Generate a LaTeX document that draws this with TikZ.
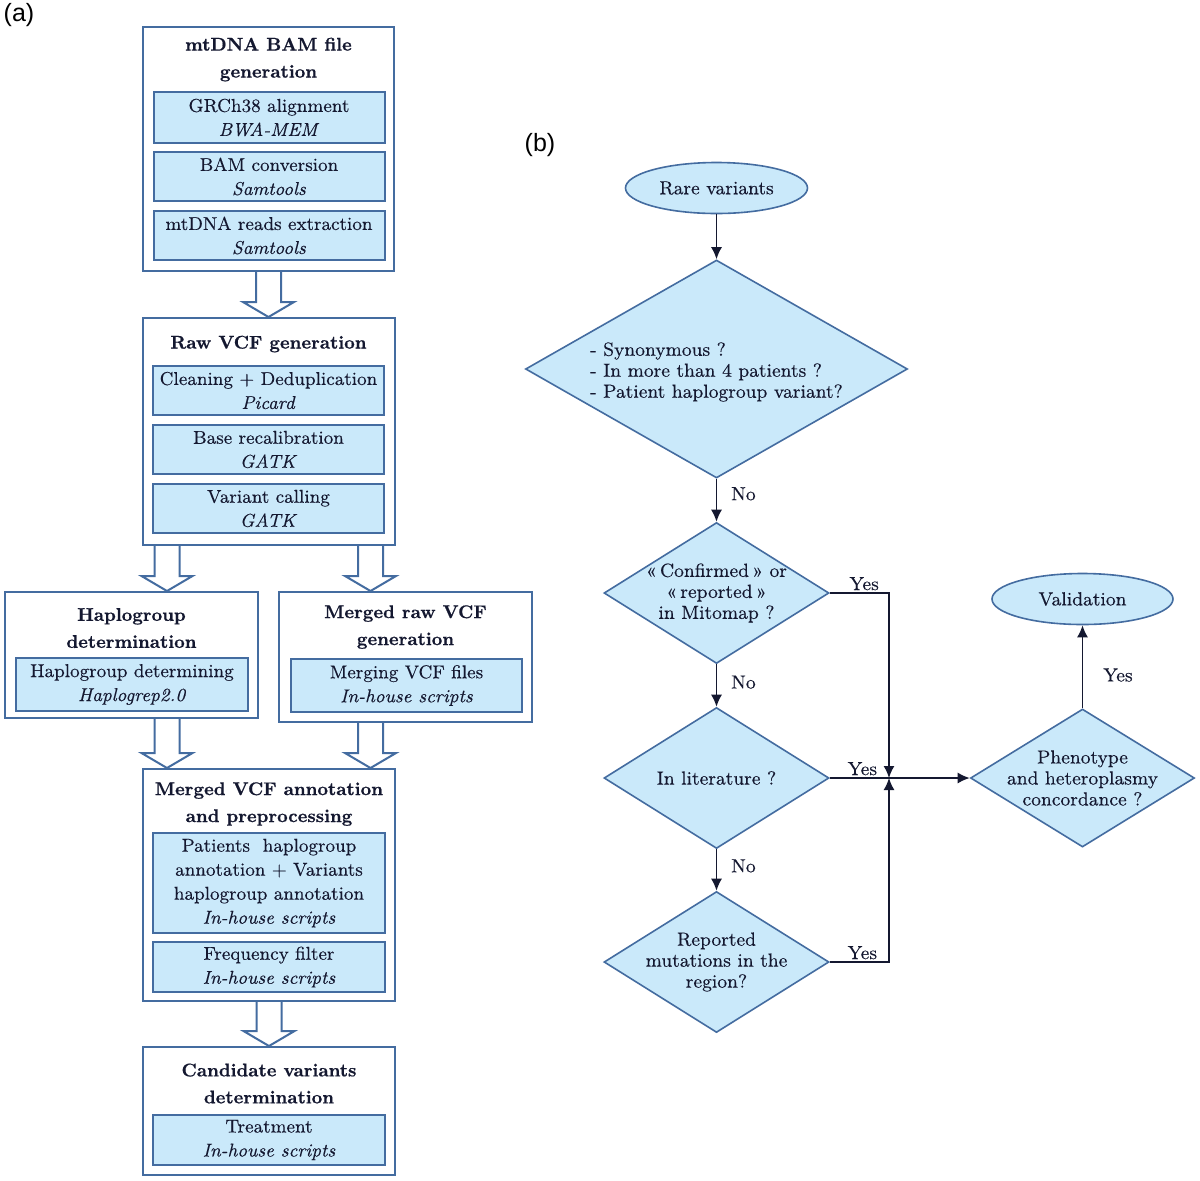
\documentclass[tikz,border=0pt]{standalone}
\usepackage{fontspec}
\newfontfamily\heavyfont{Latin Modern Roman}[FakeBold=0.2]
\newfontfamily\titlefont{lmroman10-bold.otf}[FakeBold=0.7]
\newfontfamily\panelfont{Liberation Sans}
\usetikzlibrary{shapes,arrows.meta,positioning,calc,shapes.geometric}
\definecolor{boxline}{RGB}{68,108,160}
\definecolor{boxfill}{RGB}{202,233,250}
\definecolor{flowline}{RGB}{20,24,48}

\begin{document}
\begin{tikzpicture}[x=0.5pt, y=-0.5pt, node distance=29.5pt,
    >={Latex[length=6pt,width=5.5pt]},
    stage/.style={draw=boxline, line width=1pt, rectangle, inner sep=0pt},
    stagetitle/.style={align=center, text=flowline, font=\titlefont\fontsize{9.2}{13.5}\selectfont},
    tool/.style={draw=boxline, fill=boxfill, line width=1pt, rectangle, inner sep=0pt,
        minimum width=115.5pt, minimum height=24.75pt, align=center, text=flowline,
        font=\heavyfont\fontsize{9.3}{12}\selectfont},
    blockarr/.style={draw=boxline, fill=white, line width=1pt,
        to path={let \p1=(\tikztostart), \p2=(\tikztotarget) in
            (\x1-6.25pt,\y1) -- (\x1-6.25pt,\y2+7.5pt) -- (\x1-12.75pt,\y2+7.5pt) -- (\x1,\y2)
            -- (\x1+12.75pt,\y2+7.5pt) -- (\x1+6.25pt,\y2+7.5pt) -- (\x1+6.25pt,\y1)}},
    term/.style={draw=boxline, fill=boxfill, line width=0.8pt, ellipse, inner sep=0pt,
        minimum width=91pt, minimum height=25.5pt, text=flowline, font=\heavyfont\fontsize{9.5}{10.5}\selectfont},
    decision/.style={draw=boxline, fill=boxfill, line width=0.8pt, diamond, inner sep=0pt,
        minimum width=112.5pt, minimum height=70.5pt},
    qtext/.style={align=center, text=flowline, font=\heavyfont\fontsize{9.5}{10.5}\selectfont},
    flow/.style={draw=flowline, line width=0.75pt, ->},
    answer/.style={inner sep=1pt, text=flowline, font=\heavyfont\fontsize{9.5}{10.5}\selectfont},
    panel/.style={text=black, font=\panelfont\fontsize{12.5}{14}\selectfont}]

    \path[use as bounding box, fill=white] (0,0) rectangle (1200,1180);

    % Panel labels
    \node[panel] (panela) at (19,15) {(a)};
    \node[panel] (panelb) at (540,145) {(b)};

    % (a) mtDNA BAM file generation
    \node[stage, minimum width=125.5pt, minimum height=122pt] (bamgen) at (268.5,149) {};
    \node[stagetitle] (bamgentitle) at (268.5,59.5) {mtDNA BAM file\\generation};
    \node[tool, minimum height=25.5pt] (align) at (269,117.5) {GRCh38 alignment\\\textit{BWA-MEM}};
    \node[tool, below of=align] (bamconv) {BAM conversion\\\textit{Samtools}};
    \node[tool, below of=bamconv] (extract) {mtDNA reads extraction\\\textit{Samtools}};

    % Raw VCF generation
    \node[stage, minimum width=126pt, minimum height=113.5pt] (rawvcf) at (269,431.5) {};
    \node[stagetitle] (rawvcftitle) at (268.5,344) {Raw VCF generation};
    \node[tool] (dedup) at (268.5,390.5) {Cleaning + Deduplication\\\textit{Picard}};
    \node[tool, below of=dedup] (recal) {Base recalibration\\\textit{GATK}};
    \node[tool, below of=recal] (calling) {Variant calling\\\textit{GATK}};

    % Haplogroup determination
    \node[stage, minimum width=126.5pt, minimum height=63pt] (haplo) at (131.5,655) {};
    \node[stagetitle] (haplotitle) at (131.5,628) {Haplogroup\\determination};
    \node[tool, minimum width=116pt, minimum height=26.5pt] (haplorep) at (132,684.5) {Haplogroup determining\\\textit{Haplogrep2.0}};

    % Merged raw VCF generation
    \node[stage, minimum width=126.5pt, minimum height=65pt] (mergedraw) at (405.5,657) {};
    \node[stagetitle] (mergedrawtitle) at (405.5,627) {Merged raw VCF\\generation};
    \node[tool, minimum height=26.5pt] (merging) at (406.5,685.5) {Merging VCF files\\\textit{In-house scripts}};

    % Merged VCF annotation and preprocessing
    \node[stage, minimum width=126pt, minimum height=116pt] (annot) at (269,885) {};
    \node[stagetitle] (annottitle) at (269,804) {Merged VCF annotation\\and preprocessing};
    \node[tool, minimum width=116pt, minimum height=50pt] (annotate) at (269,883) {Patients\ \ haplogroup\\annotation + Variants\\haplogroup annotation\\\textit{In-house scripts}};
    \node[tool, minimum width=116pt, below of=annotate, yshift=-12.5pt] (freq) {Frequency filter\\\textit{In-house scripts}};

    % Candidate variants determination
    \node[stage, minimum width=126pt, minimum height=64pt] (cand) at (269,1111) {};
    \node[stagetitle] (candtitle) at (269,1083.5) {Candidate variants\\determination};
    \node[tool, minimum width=116pt] (treat) at (269,1140) {Treatment\\\textit{In-house scripts}};

    \draw[blockarr] (bamgen.south) to (rawvcf.north);
    \draw[blockarr] ([xshift=-51pt]rawvcf.south) to (haplo.north);
    \draw[blockarr] ([xshift=50.75pt]rawvcf.south) to (mergedraw.north);
    \draw[blockarr] ([xshift=17.75pt]haplo.south) to (annot.north);
    \draw[blockarr] ([xshift=-17.5pt]mergedraw.south) to (annot.north);
    \draw[blockarr] (annot.south) to (cand.north);

    % (b) filtering of rare variants
    \node[term] (rare) at (716.5,188) {Rare variants};
    \node[decision, minimum width=191pt, minimum height=109pt] (synonym) at (716.5,369) {};
    \node[qtext, align=left] (synonymtext) at ([yshift=-1.5pt]synonym) {- Synonymous ?\\- In more than 4 patients ?\\- Patient haplogroup variant?};
    \node[decision] (mitomap) at (716.5,593) {};
    \node[qtext] (mitomaptext) at (mitomap) {«\thinspace Confirmed\thinspace» or\\«\thinspace reported\thinspace»\\in Mitomap ?};
    \node[decision] (literature) at (716.5,778) {};
    \node[qtext] (literaturetext) at (literature) {In literature ?};
    \node[decision] (region) at (716.5,962) {};
    \node[qtext] (regiontext) at (region) {Reported\\mutations in the\\region?};
    \node[decision, minimum width=112pt, minimum height=69pt] (concord) at (1082.5,778) {};
    \node[qtext] (concordtext) at (concord) {Phenotype\\and heteroplasmy\\concordance ?};
    \node[term, minimum width=90.5pt] (valid) at (1082.5,599) {Validation};
    \coordinate (hub) at (889,778);

    \draw[flow] (rare.south) -- (synonym.north);
    \draw[flow] (synonym.south) -- node[answer, right=6pt, pos=0.35] (no1) {No} (mitomap.north);
    \draw[flow] (mitomap.south) -- node[answer, right=6pt, pos=0.42] (no2) {No} (literature.north);
    \draw[flow] (literature.south) -- node[answer, right=6pt, pos=0.4] (no3) {No} (region.north);
    \draw[flow] (mitomap.east) -- node[answer, above, pos=0.58] (yes1) {Yes} (mitomap.east -| hub) -- (hub);
    \draw[draw=flowline, line width=0.75pt] (literature.east) -- node[answer, above, pos=0.55] (yes2) {Yes} (hub);
    \draw[flow] (region.east) -- node[answer, above, pos=0.55] (yes3) {Yes} (region.east -| hub) -- (hub);
    \draw[flow] (hub) -- (concord.west);
    \draw[flow] (concord.north) -- node[answer, right=9pt, pos=0.4] (yes4) {Yes} (valid.south);

\end{tikzpicture}
\end{document}
